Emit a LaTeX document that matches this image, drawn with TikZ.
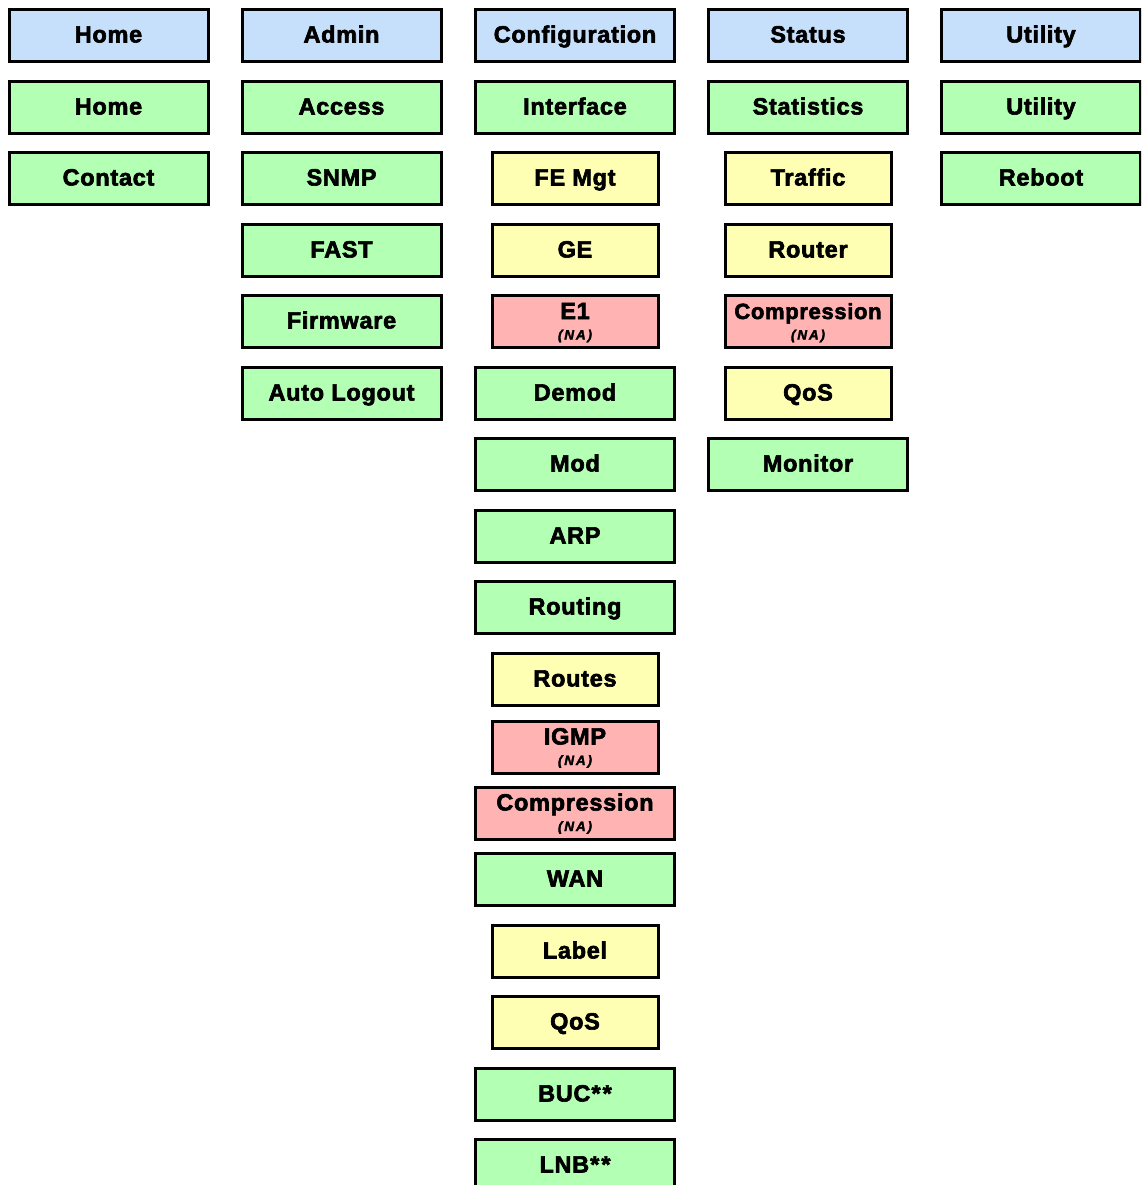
\documentclass[tikz,border=0pt]{standalone}
\usepackage{fontspec}
\setmainfont{Liberation Sans}[
  BoldFeatures={FakeBold=2.6, LetterSpace=3},
  BoldItalicFeatures={FakeBold=2.4, LetterSpace=14}]
\usetikzlibrary{shadows}
\definecolor{cblue}{RGB}{198,224,252}
\definecolor{cgreen}{RGB}{179,255,179}
\definecolor{cyellow}{RGB}{255,255,179}
\definecolor{cpink}{RGB}{255,179,179}
\tikzset{
  box/.style={draw=black, line width=3pt, minimum height=52pt, inner sep=0pt,
    text=black, align=center, text height=19pt, text depth=5pt,
    font=\fontsize{23.5}{20.5}\selectfont\bfseries,
    drop shadow={shadow xshift=1pt, shadow yshift=-1.5pt, opacity=0.18, fill=black}},
  wide/.style={box, minimum width=199pt},
  narrow/.style={box, minimum width=166pt},
  bl/.style={wide, fill=cblue},
  gr/.style={wide, fill=cgreen},
  ye/.style={narrow, fill=cyellow},
  twoline/.style={text height=40pt, text depth=4pt},
  pk/.style={narrow, fill=cpink, twoline},
  pkw/.style={wide, fill=cpink, twoline},
  smallfont/.style={font=\fontsize{22}{20.5}\selectfont\bfseries},
}
\newcommand{\na}{\\{\fontsize{13.5}{13.5}\selectfont\itshape (NA)}}
\newcommand{\stars}{\kern1pt*\kern2pt*}
\begin{document}
\begin{tikzpicture}[x=1pt, y=-1pt]
\useasboundingbox (0,0) rectangle (1141,1185);
\fill[white] (0,0) rectangle (1141,1185);
\clip (0,0) rectangle (1141,1185);
% column 1
\node[bl] (home) at (108.5,35.5) {Home};
\node[gr] (homep) at (108.5,107.5) {Home};
\node[gr] (contact) at (108.5,178.5) {Contact};
% column 2
\node[bl] (admin) at (341.5,35.5) {Admin};
\node[gr] (access) at (341.5,107.5) {Access};
\node[gr] (snmp) at (341.5,178.5) {SNMP};
\node[gr] (fast) at (341.5,250.5) {FAST};
\node[gr] (firmware) at (341.5,321.5) {Firmware};
\node[gr] (autologout) at (341.5,393.5) {Auto Logout};
% column 3
\node[bl] (config) at (575,35.5) {Configuration};
\node[gr] (interface) at (575,107.5) {Interface};
\node[ye] (femgt) at (575,178.5) {FE Mgt};
\node[ye] (ge) at (575,250.5) {GE};
\node[pk] (eone) at (575,321.5) {E1\na};
\node[gr] (demod) at (575,393.5) {Demod};
\node[gr] (mod) at (575,464.5) {Mod};
\node[gr] (arp) at (575,536.5) {ARP};
\node[gr] (routing) at (575,607.5) {Routing};
\node[ye] (routes) at (575,679.5) {Routes};
\node[pk] (igmp) at (575,747) {IGMP\na};
\node[pkw] (compc) at (575,813) {Compression\na};
\node[gr] (wan) at (575,879.5) {WAN};
\node[ye] (label) at (575,951.5) {Label};
\node[ye] (qosc) at (575,1022.5) {QoS};
\node[gr] (buc) at (575,1094.5) {BUC\stars};
\node[gr] (lnb) at (575,1165.5) {LNB\stars};
% column 4
\node[bl] (status) at (808,35.5) {Status};
\node[gr] (stats) at (808,107.5) {Statistics};
\node[ye] (traffic) at (808,178.5) {Traffic};
\node[ye] (router) at (808,250.5) {Router};
\node[pk, smallfont] (comps) at (808,321.5) {Compression\na};
\node[ye] (qoss) at (808,393.5) {QoS};
\node[gr] (monitor) at (808,464.5) {Monitor};
% column 5
\node[bl] (utility) at (1041,35.5) {Utility};
\node[gr] (utilityp) at (1041,107.5) {Utility};
\node[gr] (reboot) at (1041,178.5) {Reboot};
\end{tikzpicture}
\end{document}
